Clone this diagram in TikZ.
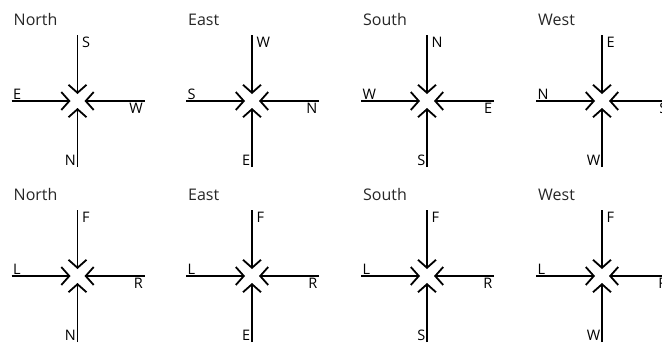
\documentclass[tikz,border=0pt]{standalone}
\usepackage{fontspec}
\setmainfont{Open Sans}
\usetikzlibrary{arrows.meta}

\tikzset{
  inarrow/.style={line width=1.8pt, -{Straight Barb[length=8pt,width=18pt]}, shorten >=7pt},
  heading/.style={anchor=base west, inner sep=0pt, text=black!85, font=\fontsize{16}{19}\selectfont},
  dirlabel/.style={inner sep=1.5pt, text=black, font=\fontsize{14.5}{17}\selectfont}
}

\begin{document}
\begin{tikzpicture}[x=1pt,y=-1pt]
      \useasboundingbox (0,0) rectangle (662,349);
      \foreach \i/\x/\y/\ttl/\top/\lft/\rgt/\bot in {
          1/77.5/101/North/S/E/W/N,
          2/252/101/East/W/S/N/E,
          3/427/101/South/N/W/E/S,
          4/602/101/West/E/N/S/W,
          5/77.5/276/North/F/L/R/N,
          6/252/276/East/F/L/R/E,
          7/427/276/South/F/L/R/S,
          8/602/276/West/F/L/R/W} {
        \coordinate (c\i) at (\x,\y);
        \coordinate (n\i) at (\x,\y-66);
        \coordinate (s\i) at (\x,\y+66);
        \coordinate (w\i) at (\x-66,\y);
        \coordinate (e\i) at (\x+67,\y);
        \node[heading] (h\i) at (\x-64,\y-76) {\ttl};
        \begin{scope}[inarrow]
          \draw (n\i) to (c\i);
          \draw (w\i) to (c\i);
          \draw (e\i) to (c\i);
          \draw (s\i) to (c\i);
        \end{scope}
        \node[dirlabel, anchor=north west, xshift=3pt] (ln\i) at (n\i) {\top};
        \node[dirlabel, anchor=south west] (lw\i) at (w\i) {\lft};
        \node[dirlabel, anchor=north east] (le\i) at (e\i) {\rgt};
        \node[dirlabel, anchor=south east] (ls\i) at (s\i) {\bot};
      }
    \end{tikzpicture}
\end{document}
